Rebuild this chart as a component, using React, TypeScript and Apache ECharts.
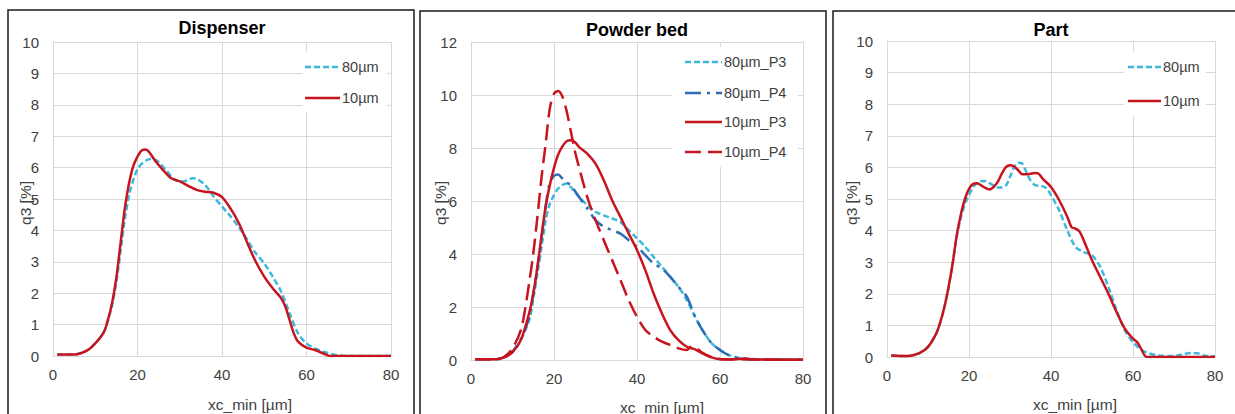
import React, { useEffect, useRef } from "react";
import * as echarts from "echarts";

// ---------- Data ----------
const panelTitles = ["Dispenser", "Powder bed", "Part"];
const xTicks = [0, 20, 40, 60, 80];
const yMaxes = [10, 12, 10];
const yIntervals = [1, 2, 1];

// Dispenser
const disp10X = [1, 5, 8, 10, 12, 13, 14, 15, 16, 17, 18, 19, 20, 21, 22, 23, 24, 26, 28, 30, 32, 34, 36, 38, 40, 42, 44, 46, 48, 50, 52, 54, 55, 56, 57, 58, 60, 62, 64, 65, 66, 80];
const disp10Y = [0.05, 0.05, 0.17, 0.4, 0.75, 1.15, 1.7, 2.5, 3.6, 4.7, 5.5, 6.05, 6.35, 6.55, 6.58, 6.45, 6.25, 5.93, 5.66, 5.56, 5.42, 5.29, 5.23, 5.2, 5.06, 4.7, 4.23, 3.6, 3.0, 2.53, 2.16, 1.84, 1.57, 1.15, 0.72, 0.46, 0.27, 0.19, 0.08, 0.02, 0, 0];
const disp80X = [1, 5, 8, 10, 12, 13, 14, 15, 16, 17, 18, 19, 20, 21, 22, 23, 24, 25, 27, 29, 31, 33, 34, 36, 38, 40, 42, 44, 46, 48, 50, 52, 54, 56, 58, 60, 62, 64, 66, 68, 70, 80];
const disp80Y = [0.05, 0.05, 0.17, 0.4, 0.75, 1.12, 1.62, 2.35, 3.35, 4.35, 5.12, 5.6, 5.95, 6.12, 6.22, 6.27, 6.26, 6.18, 5.88, 5.6, 5.56, 5.66, 5.64, 5.45, 5.08, 4.76, 4.45, 4.1, 3.7, 3.27, 2.95, 2.53, 2.05, 1.36, 0.72, 0.4, 0.24, 0.14, 0.06, 0.02, 0, 0];

// Powder bed
const bed80P3X = [1, 6, 8, 10, 12, 14, 15, 16, 17, 18, 19, 20, 21, 22, 23, 24, 26, 28, 30, 32, 34, 36, 38, 40, 42, 44, 46, 48, 50, 52, 54, 56, 58, 60, 62, 64, 66, 70, 80];
const bed80P3Y = [0.03, 0.03, 0.1, 0.3, 0.75, 1.5, 2.3, 3.27, 4.27, 5.28, 5.9, 6.22, 6.47, 6.6, 6.66, 6.53, 6.16, 5.84, 5.59, 5.46, 5.34, 5.21, 4.9, 4.59, 4.27, 3.89, 3.52, 3.14, 2.76, 2.26, 1.63, 1.07, 0.63, 0.38, 0.19, 0.1, 0.06, 0.02, 0.01];
const bed80P4X = [1, 6, 8, 10, 12, 14, 15, 16, 17, 18, 19, 20, 21, 22, 23, 24, 26, 28, 30, 32, 34, 36, 38, 40, 42, 44, 46, 48, 50, 52, 54, 56, 58, 60, 62, 64, 66, 70, 80];
const bed80P4Y = [0.03, 0.03, 0.1, 0.32, 0.8, 1.6, 2.5, 3.5, 4.6, 5.8, 6.7, 6.95, 7.0, 6.85, 6.7, 6.6, 6.16, 5.72, 5.28, 5.03, 4.9, 4.77, 4.52, 4.27, 3.96, 3.64, 3.45, 3.14, 2.76, 2.39, 1.63, 1.07, 0.63, 0.38, 0.19, 0.09, 0.04, 0.02, 0.01];
const bed10P3X = [1, 6, 8, 10, 12, 14, 15, 16, 17, 18, 19, 20, 21, 22, 23, 24, 25, 26, 28, 30, 32, 34, 36, 38, 40, 42, 44, 46, 48, 50, 52, 54, 56, 58, 60, 62, 64, 66, 68, 80];
const bed10P3Y = [0.03, 0.03, 0.1, 0.3, 0.75, 1.76, 2.5, 3.5, 4.7, 5.8, 6.6, 7.25, 7.75, 8.05, 8.25, 8.29, 8.23, 8.04, 7.79, 7.41, 6.78, 6.03, 5.4, 4.77, 4.15, 3.39, 2.51, 1.76, 1.13, 0.75, 0.5, 0.4, 0.23, 0.1, 0.03, 0.02, 0.03, 0.06, 0.02, 0.01];
const bed10P4X = [1, 6, 8, 10, 12, 13, 14, 15, 16, 17, 18, 19, 20, 21, 22, 23, 24, 25, 26, 28, 30, 32, 34, 36, 38, 40, 42, 44, 46, 48, 50, 52, 53, 54, 56, 58, 60, 80];
const bed10P4Y = [0.03, 0.03, 0.12, 0.44, 1.13, 1.88, 2.9, 4.0, 5.4, 6.9, 8.17, 9.5, 10.05, 10.15, 9.95, 9.42, 8.67, 7.91, 7.29, 6.16, 5.28, 4.52, 3.77, 3.02, 2.26, 1.63, 1.13, 0.88, 0.69, 0.57, 0.44, 0.38, 0.5, 0.48, 0.25, 0.1, 0.04, 0.01];

// Part
const part10X = [1, 5, 8, 10, 12, 13, 14, 15, 16, 17, 18, 19, 20, 21, 22, 23, 24, 25, 26, 27, 28, 29, 30, 31, 32, 33, 34, 35, 36, 37, 38, 40, 42, 44, 45, 46, 47, 48, 50, 52, 54, 56, 58, 60, 61, 62, 63, 64, 80];
const part10Y = [0.05, 0.03, 0.13, 0.32, 0.74, 1.1, 1.58, 2.2, 2.95, 3.85, 4.5, 5.0, 5.32, 5.48, 5.5, 5.43, 5.35, 5.3, 5.38, 5.54, 5.8, 6.01, 6.07, 6.03, 5.91, 5.78, 5.78, 5.8, 5.82, 5.8, 5.64, 5.38, 4.96, 4.43, 4.11, 4.06, 3.96, 3.69, 3.06, 2.53, 2.0, 1.42, 0.9, 0.58, 0.47, 0.26, 0.02, 0, 0];
const part80X = [1, 5, 8, 10, 12, 13, 14, 15, 16, 17, 18, 19, 20, 21, 22, 23, 24, 25, 26, 27, 28, 29, 30, 31, 32, 33, 34, 35, 36, 38, 39, 40, 42, 44, 46, 48, 50, 52, 54, 56, 58, 60, 62, 64, 66, 70, 72, 74, 76, 78, 80];
const part80Y = [0.05, 0.03, 0.13, 0.32, 0.74, 1.1, 1.58, 2.2, 2.95, 3.8, 4.4, 4.85, 5.12, 5.38, 5.5, 5.56, 5.57, 5.5, 5.43, 5.36, 5.36, 5.43, 5.7, 6.01, 6.15, 6.12, 5.85, 5.59, 5.45, 5.4, 5.33, 5.12, 4.64, 4.0, 3.48, 3.32, 3.22, 2.85, 2.22, 1.48, 0.84, 0.47, 0.23, 0.11, 0.05, 0.03, 0.08, 0.13, 0.11, 0.03, 0.02];

// ---------- Styles ----------
const FONT = "'Liberation Sans', Arial, sans-serif";
const CYAN = "#3CB9DC";
const BLUE = "#2C6DB3";
const RED = "#C8141E";
const GRIDC = "#D9D9D9";
const TXT = "#404040";

const DASH_CYAN = [6, 3];
const DASH_BLUE = [16, 6, 3, 6];
const DASH_RED = [16, 7];

const grids = [
  { left: 53, top: 42, width: 338, height: 314 },
  { left: 471, top: 42, width: 332, height: 318 },
  { left: 887, top: 41, width: 328, height: 316 },
];

function pairs(xs: number[], ys: number[]) {
  return xs.map((x, i) => [x, ys[i]]);
}

function line(name: string, idx: number, xs: number[], ys: number[], color: string, type: any, z = 2) {
  return {
    type: "line",
    name,
    xAxisIndex: idx,
    yAxisIndex: idx,
    data: pairs(xs, ys),
    smooth: 0.3,
    symbol: "none",
    showSymbol: false,
    z,
    lineStyle: { color, width: 2.5, type },
    itemStyle: { color },
  };
}

type LegendItem = { label: string; color: string; dash: number[] | null };

function legendGraphic(box: { x: number; y: number; w: number; h: number }, lineX0: number, lineX1: number, rows: number[], items: LegendItem[]) {
  const out: any[] = [
    { type: "rect", z: 5, shape: { x: box.x, y: box.y, width: box.w, height: box.h }, style: { fill: "#ffffff", stroke: "none" } },
  ];
  items.forEach((it, i) => {
    out.push({
      type: "line",
      z: 6,
      shape: { x1: lineX0, y1: rows[i], x2: lineX1, y2: rows[i] },
      style: { stroke: it.color, lineWidth: 2.5, lineDash: it.dash || undefined },
    });
    out.push({
      type: "text",
      z: 6,
      x: lineX1 + 2,
      y: rows[i],
      style: { text: it.label, fill: TXT, font: `14.5px ${FONT}`, textAlign: "left", textVerticalAlign: "middle" },
    });
  });
  return out;
}

export default function App() {
  const ref = useRef<HTMLDivElement>(null);
  useEffect(() => {
    if (!ref.current) return;
    const chart = echarts.init(ref.current, undefined, { renderer: "svg" });
    const xAxes = grids.map((_, i) => ({
      type: "value",
      gridIndex: i,
      min: xTicks[0],
      max: xTicks[xTicks.length - 1],
      interval: 20,
      axisLine: { show: true, lineStyle: { color: GRIDC, width: 1 } },
      axisTick: { show: false },
      splitLine: { show: true, lineStyle: { color: GRIDC, width: 1 } },
      axisLabel: { color: TXT, fontSize: 15, fontFamily: FONT, margin: 11 },
    }));
    const yAxes = grids.map((_, i) => ({
      type: "value",
      gridIndex: i,
      min: 0,
      max: yMaxes[i],
      interval: yIntervals[i],
      axisLine: { show: true, lineStyle: { color: GRIDC, width: 1 } },
      axisTick: { show: false },
      splitLine: { show: true, lineStyle: { color: GRIDC, width: 1 } },
      axisLabel: { color: TXT, fontSize: 15, fontFamily: FONT, margin: 14 },
    }));

    const centers = grids.map((g) => g.left + g.width / 2);
    const titleY = [28, 30, 30];
    const yLabelX = [25, 440, 851];
    const xLabelX = [250, 662, 1075];
    const xLabelY = [404, 407, 404];

    const graphic: any[] = [
      { type: "rect", shape: { x: 8, y: 10, width: 406, height: 440 }, style: { fill: "none", stroke: "#1a1a1a", lineWidth: 1.5 }, z: 10 },
      { type: "rect", shape: { x: 420, y: 11, width: 406, height: 440 }, style: { fill: "none", stroke: "#1a1a1a", lineWidth: 1.5 }, z: 10 },
      { type: "rect", shape: { x: 833, y: 11, width: 420, height: 440 }, style: { fill: "none", stroke: "#1a1a1a", lineWidth: 1.5 }, z: 10 },
    ];
    panelTitles.forEach((t, i) => {
      graphic.push({
        type: "text",
        x: centers[i],
        y: titleY[i],
        z: 10,
        style: { text: t, fill: "#000", font: `bold 18px ${FONT}`, textAlign: "center", textVerticalAlign: "middle" },
      });
      graphic.push({
        type: "text",
        x: yLabelX[i],
        y: 203,
        rotation: Math.PI / 2,
        z: 10,
        style: { text: "q3 [%]", fill: TXT, font: `15.5px ${FONT}`, textAlign: "center", textVerticalAlign: "middle" },
      });
      graphic.push({
        type: "text",
        x: xLabelX[i],
        y: xLabelY[i],
        z: 10,
        style: { text: "xc_min [µm]", fill: TXT, font: `15.5px ${FONT}`, textAlign: "center", textVerticalAlign: "middle" },
      });
    });

    graphic.push(
      ...legendGraphic({ x: 302, y: 52, w: 85, h: 60 }, 305, 340, [67, 98], [
        { label: "80µm", color: CYAN, dash: DASH_CYAN },
        { label: "10µm", color: RED, dash: null },
      ])
    );
    graphic.push(
      ...legendGraphic({ x: 672, y: 47, w: 126, h: 120 }, 685, 722, [62, 93, 122, 152], [
        { label: "80µm_P3", color: CYAN, dash: DASH_CYAN },
        { label: "80µm_P4", color: BLUE, dash: DASH_BLUE },
        { label: "10µm_P3", color: RED, dash: null },
        { label: "10µm_P4", color: RED, dash: DASH_RED },
      ])
    );
    graphic.push(
      ...legendGraphic({ x: 1124, y: 52, w: 82, h: 64 }, 1128, 1161, [67, 101], [
        { label: "80µm", color: CYAN, dash: DASH_CYAN },
        { label: "10µm", color: RED, dash: null },
      ])
    );

    chart.setOption({
      animation: false,
      backgroundColor: "#ffffff",
      grid: grids,
      xAxis: xAxes,
      yAxis: yAxes,
      graphic,
      series: [
        line("80µm", 0, disp80X, disp80Y, CYAN, DASH_CYAN, 2),
        line("10µm", 0, disp10X, disp10Y, RED, "solid", 3),
        line("80µm_P3", 1, bed80P3X, bed80P3Y, CYAN, DASH_CYAN, 2),
        line("80µm_P4", 1, bed80P4X, bed80P4Y, BLUE, DASH_BLUE, 2),
        line("10µm_P3", 1, bed10P3X, bed10P3Y, RED, "solid", 3),
        line("10µm_P4", 1, bed10P4X, bed10P4Y, RED, DASH_RED, 3),
        line("80µm", 2, part80X, part80Y, CYAN, DASH_CYAN, 2),
        line("10µm", 2, part10X, part10Y, RED, "solid", 3),
      ],
    });
    return () => chart.dispose();
  }, []);
  return <div ref={ref} style={{ position: "absolute", left: 0, top: 0, width: 1235, height: 414 }} />;
}
